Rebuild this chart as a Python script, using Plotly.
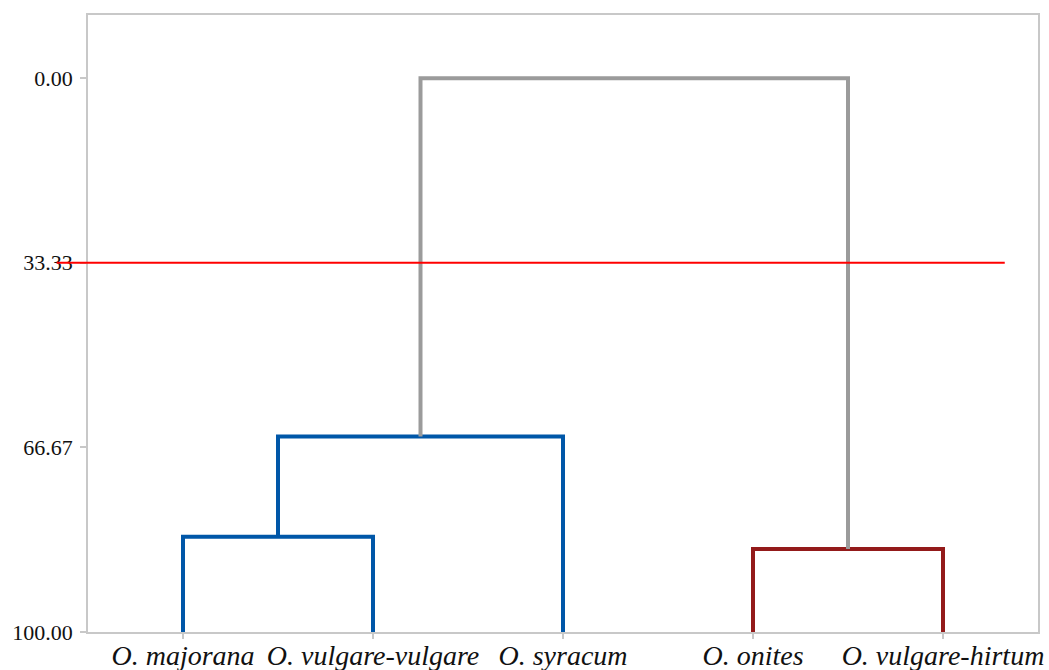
import plotly.graph_objects as go

# Leaves (left to right) and their positions
leaf_labels = ["O. majorana", "O. vulgare-vulgare", "O. syracum", "O. onites", "O. vulgare-hirtum"]
leaf_pos = [1, 2, 3, 4, 5]

# Merges: (left node, right node, similarity level) ; nodes >= 5 are earlier merges
merge_left = [0, 5, 3, 6]
merge_right = [1, 2, 4, 7]
merge_level = [82.8, 64.7, 85.0, 0.0]
merge_color = ["#0057a8", "#0057a8", "#931a1a", "#9b9b9b"]

threshold = 33.33
tick_vals = [0.0, 33.33, 66.67, 100.0]
tick_text = ["0.00", "33.33", "66.67", "100.00"]

# node coordinates
node_x = list(leaf_pos)
node_y = [100.0] * len(leaf_pos)

fig = go.Figure()
for l, r, h, c in zip(merge_left, merge_right, merge_level, merge_color):
    xs = [node_x[l], node_x[l], node_x[r], node_x[r]]
    ys = [node_y[l], h, h, node_y[r]]
    fig.add_trace(go.Scatter(x=xs, y=ys, mode="lines",
                             line=dict(color=c, width=4), hoverinfo="skip",
                             showlegend=False))
    node_x.append((node_x[l] + node_x[r]) / 2)
    node_y.append(h)

fig.add_shape(type="line", xref="paper", yref="y", x0=-0.033, x1=0.965,
              y0=threshold, y1=threshold, line=dict(color="#ff0000", width=2),
              layer="above")

fig.update_layout(
    width=1049, height=670,
    margin=dict(l=88, r=11, t=15, b=38, autoexpand=False),
    paper_bgcolor="white", plot_bgcolor="white",
    font=dict(family="Liberation Serif", color="#111111"),
)
fig.update_xaxes(
    range=[0.5, 5.5], tickmode="array", tickvals=leaf_pos, ticktext=leaf_labels,
    tickfont=dict(family="Liberation Serif", size=28, style="italic", color="#111111"),
    ticks="outside", ticklen=5, tickcolor="#c8c8c8", tickwidth=1.5,
    ticklabelstandoff=-7, automargin=False,
    showline=True, linecolor="#c8c8c8", linewidth=1.5, mirror=True,
    showgrid=False, zeroline=False,
)
fig.update_yaxes(
    range=[100, -11.4], tickmode="array", tickvals=tick_vals, ticktext=tick_text,
    tickfont=dict(family="Liberation Serif", size=22, color="#111111"),
    ticks="outside", ticklen=6, tickcolor="#c8c8c8", tickwidth=1.5,
    ticklabelstandoff=3, automargin=False,
    showline=True, linecolor="#c8c8c8", linewidth=1.5, mirror=True,
    showgrid=False, zeroline=False,
)
fig.write_html(
    "out.html",
    config={"displayModeBar": False},
    post_script="document.body.style.margin='0';document.body.style.overflow='hidden';",
)
